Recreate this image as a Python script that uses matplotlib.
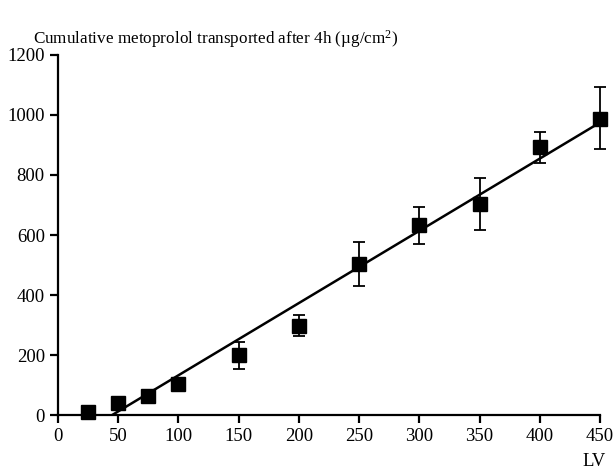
import numpy as np
import matplotlib
matplotlib.use("Agg")
import matplotlib.pyplot as plt

plt.rcParams['font.family'] = ['Liberation Serif', 'DejaVu Serif']
plt.rcParams['mathtext.fontset'] = 'custom'
plt.rcParams['mathtext.rm'] = 'Liberation Serif'
plt.rcParams['mathtext.it'] = 'Liberation Serif:italic'

# data
lv = [25, 50, 75, 100, 150, 200, 250, 300, 350, 400, 450]
transported = [10, 40, 62, 103, 200, 298, 505, 632, 703, 892, 988]
err_low = [0, 0, 0, 0, 45, 35, 75, 62, 88, 52, 100]
err_high = [0, 0, 0, 0, 42, 35, 73, 60, 87, 52, 105]

# regression line end points
fit_x = [45, 450]
fit_y = [0, 975]

fig = plt.figure(figsize=(6.13, 4.70), dpi=100)
ax = fig.add_axes([0.0946, 0.117, 0.8842, 0.766])

ax.plot(fit_x, fit_y, color='black', lw=1.8, zorder=2)
eb = ax.errorbar(lv, transported, yerr=[err_low, err_high], fmt='s', color='black',
                 ms=9.5, elinewidth=1.3, capsize=4, capthick=1.3, zorder=3)
for artist in eb.get_children():
    artist.set_clip_on(False)

ax.set_xlim(0, 450)
ax.set_ylim(0, 1200)
ax.set_xticks(np.arange(0, 451, 50))
ax.set_yticks(np.arange(0, 1201, 200))
for s in ['top', 'right']:
    ax.spines[s].set_visible(False)
for s in ['left', 'bottom']:
    ax.spines[s].set_linewidth(1.6)
ax.tick_params(direction='out', length=6, width=1.6, labelsize=13.5)

fig.text(0.054, 0.893, 'Cumulative metoprolol transported after 4h (\u00b5g/cm$\\mathregular{^2}$)',
         fontsize=12.3, ha='left', va='bottom')
fig.text(0.988, 0.0, 'LV', fontsize=13.5, ha='right', va='bottom')

fig.savefig('out.png', dpi=100)
